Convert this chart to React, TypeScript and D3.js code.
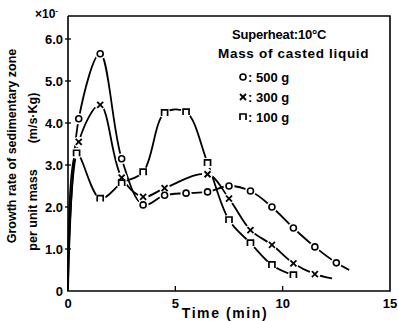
import React from "react";
import * as d3 from "d3";

const xTicks = [0, 5, 10, 15];
const yTicks = [0, 1, 2, 3, 4, 5, 6];
const yTickLabels = ["0", "1.0", "2.0", "3.0", "4.0", "5.0", "6.0"];

const time500 = [0.5, 1.5, 2.5, 3.5, 4.5, 5.5, 6.5, 7.5, 8.5, 9.5, 10.5, 11.5, 12.5];
const rate500 = [4.1, 5.65, 3.15, 2.05, 2.28, 2.33, 2.36, 2.5, 2.38, 2.0, 1.5, 1.05, 0.67];
const tail500 = [13.1, 0.5];

const time300 = [0.5, 1.5, 2.5, 3.5, 4.5, 6.5, 7.5, 8.5, 9.5, 10.5, 11.5];
const rate300 = [3.55, 4.43, 2.7, 2.24, 2.45, 2.78, 2.2, 1.45, 1.1, 0.66, 0.4];
const tail300 = [12.3, 0.3];

const time100 = [0.4, 1.5, 2.5, 3.5, 4.5, 5.5, 6.5, 7.5, 8.5, 9.5, 10.5];
const rate100 = [3.28, 2.2, 2.57, 2.83, 4.24, 4.26, 3.05, 1.69, 1.14, 0.62, 0.38];
const tail100 = [10.7, 0.36];

const legendLabels = ["500 g", "300 g", "100 g"];
const markerKinds = ["circle", "cross", "square"];

const W = 398;
const H = 321;
const FONT = "'Liberation Sans', Arial, sans-serif";

function Marker({ kind, x, y }: { kind: string; x: number; y: number }) {
  const s = 3;
  if (kind === "circle")
    return <circle cx={x} cy={y} r={3} fill="white" stroke="black" strokeWidth={1.6} />;
  if (kind === "cross")
    return (
      <g stroke="black" strokeWidth={1.8}>
        <line x1={x - s} y1={y - s} x2={x + s} y2={y + s} />
        <line x1={x - s} y1={y + s} x2={x + s} y2={y - s} />
      </g>
    );
  return (
    <path
      d={`M${x - 3},${y + 3}V${y - 3}H${x + 3}V${y + 3}`}
      fill="white"
      stroke="black"
      strokeWidth={1.7}
    />
  );
}

export default function App() {
  const x = d3.scaleLinear().domain([0, 15]).range([68, 390]);
  const y = d3.scaleLinear().domain([0, 6]).range([291, 39]);

  const series = [
    { t: time500, v: rate500, tail: tail500, kind: markerKinds[0] },
    { t: time300, v: rate300, tail: tail300, kind: markerKinds[1] },
    { t: time100, v: rate100, tail: tail100, kind: markerKinds[2] },
  ];

  const line = d3
    .line<[number, number]>()
    .x((d) => x(d[0]))
    .y((d) => y(d[1]))
    .curve(d3.curveCatmullRom.alpha(0.5));

  const top = 16;

  return (
    <svg
      width={W}
      height={H}
      style={{ position: "absolute", left: 0, top: 0, background: "white" }}
      fontFamily={FONT}
      fontWeight="bold"
    >
      {/* curves */}
      {series.map((s, i) => {
        const pts: [number, number][] = [[0, 0]];
        s.t.forEach((t, j) => pts.push([t, s.v[j]]));
        pts.push([s.tail[0], s.tail[1]]);
        return (
          <path key={i} d={line(pts) || ""} fill="none" stroke="black" strokeWidth={1.8} />
        );
      })}
      {/* marker halos */}
      {series.map((s, i) =>
        s.t.map((t, j) => (
          <circle key={`h${i}-${j}`} cx={x(t)} cy={y(s.v[j])} r={5.5} fill="white" />
        ))
      )}
      {series.map((s, i) =>
        s.t.map((t, j) => <Marker key={`m${i}-${j}`} kind={s.kind} x={x(t)} y={y(s.v[j])} />)
      )}

      {/* frame */}
      <path
        d={`M${x(0)},${top}V${y(0)}H${x(15)}V${top}H${x(0)}`}
        fill="none"
        stroke="black"
        strokeWidth={1.6}
      />
      {/* y ticks */}
      {yTicks.map((t, i) => (
        <g key={`yt${i}`}>
          {t > 0 && (
            <line x1={x(0) - 3} x2={x(0) + 3} y1={y(t)} y2={y(t)} stroke="black" strokeWidth={1.3} />
          )}
          <text x={63} y={y(t) + 5} textAnchor="end" fontSize={13}>
            {yTickLabels[i]}
          </text>
        </g>
      ))}
      {/* x ticks */}
      {xTicks.map((t, i) => (
        <g key={`xt${i}`}>
          {t > 0 && t < 15 && (
            <line x1={x(t)} x2={x(t)} y1={y(0)} y2={y(0) - 5} stroke="black" strokeWidth={1.3} />
          )}
          <text x={x(t)} y={308} textAnchor="middle" fontSize={13}>
            {xTicks[i]}
          </text>
        </g>
      ))}

      <text x={35} y={18} fontSize={12}>
        ×10
        <tspan dy={-5} fontSize={8}>
          -
        </tspan>
      </text>

      <text x={225} y={318} textAnchor="middle" fontSize={14} letterSpacing={1.6}>
        Time (min)
      </text>

      <text transform="translate(16,146) rotate(-90)" textAnchor="middle" fontSize={12.5}>
        Growth rate of sedimentary zone
      </text>
      <text transform="translate(37,210) rotate(-90)" textAnchor="middle" fontSize={12.5}>
        per unit mass
      </text>
      <text transform="translate(37,118) rotate(-90)" textAnchor="middle" fontSize={12.5}>
        (m/s·Kg)
      </text>

      {/* legend */}
      <text x={232} y={39} fontSize={13} letterSpacing={-0.2}>
        Superheat:10°C
      </text>
      <text x={218} y={58} fontSize={13.5} letterSpacing={0.7}>
        Mass of casted liquid
      </text>
      {legendLabels.map((lab, i) => (
        <g key={`lg${i}`}>
          <Marker kind={markerKinds[i]} x={243} y={77 + i * 20} />
          <text x={248} y={82 + i * 20} fontSize={13}>
            : {lab}
          </text>
        </g>
      ))}
    </svg>
  );
}
